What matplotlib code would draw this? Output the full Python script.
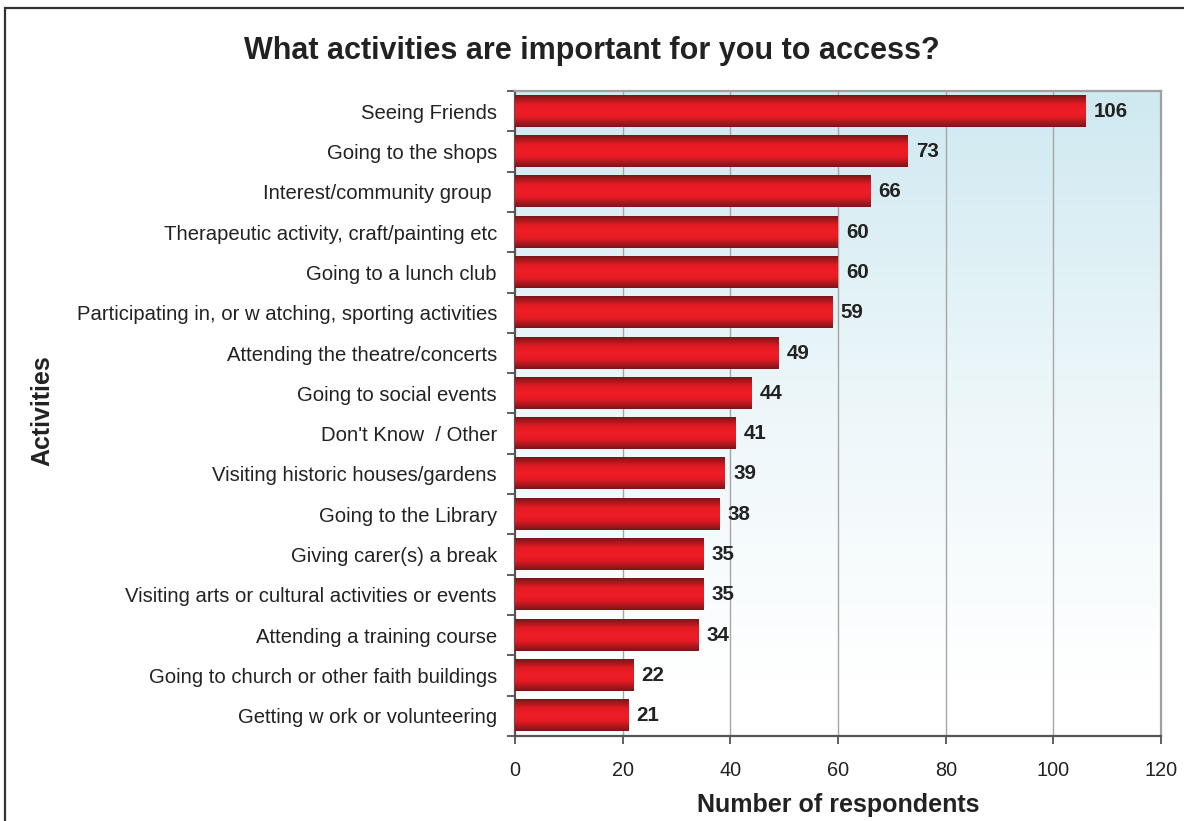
import numpy as np
import matplotlib.pyplot as plt
from matplotlib.colors import LinearSegmentedColormap
from matplotlib.patches import Rectangle

plt.rcParams["font.family"] = ["Liberation Sans", "DejaVu Sans"]

activities = [
    "Seeing Friends",
    "Going to the shops",
    "Interest/community group ",
    "Therapeutic activity, craft/painting etc",
    "Going to a lunch club",
    "Participating in, or w atching, sporting activities",
    "Attending the theatre/concerts",
    "Going to social events",
    "Don't Know  / Other",
    "Visiting historic houses/gardens",
    "Going to the Library",
    "Giving carer(s) a break",
    "Visiting arts or cultural activities or events",
    "Attending a training course",
    "Going to church or other faith buildings",
    "Getting w ork or volunteering",
]
respondents = [106, 73, 66, 60, 60, 59, 49, 44, 41, 39, 38, 35, 35, 34, 22, 21]
x_ticks = [0, 20, 40, 60, 80, 100, 120]

fig = plt.figure(figsize=(11.84, 8.21), dpi=100)
ax = fig.add_axes([0.435, 0.1035, 0.5456, 0.7857])

# frame around the whole chart
fig.add_artist(Rectangle((0.0045, -0.05), 1.2, 1.04, transform=fig.transFigure,
                         fill=False, edgecolor="#333333", linewidth=1.6))

n = len(activities)
ypos = np.arange(n)[::-1]
ax.set_xlim(0, 120)
ax.set_ylim(-0.5, n - 0.5)

# plot area: light blue at the top fading to white near the bottom
bg = LinearSegmentedColormap.from_list(
    "bg", [(0.0, "#ffffff"), (0.09, "#ffffff"), (0.55, "#ebf6f9"), (1.0, "#cfe9f1")])
ax.imshow(np.linspace(0, 1, 256).reshape(-1, 1), cmap=bg, origin="lower",
          extent=(0, 120, -0.5, n - 0.5), aspect="auto", zorder=0)

for x in x_ticks[1:-1]:
    ax.axvline(x, color="#a6a6a6", linewidth=1.0, zorder=1)

# cylinder-style shading across each bar
shade = LinearSegmentedColormap.from_list(
    "shade", [(0.0, "#7c1519"), (0.3, "#e41b23"), (0.5, "#ef1d26"),
              (0.72, "#e21b23"), (1.0, "#7c1519")])
grad = np.linspace(0, 1, 64).reshape(-1, 1)
h = 0.77
bars = ax.barh(ypos, respondents, height=h, color="none", zorder=2)
for b, v in zip(bars, respondents):
    y0 = b.get_y()
    ax.imshow(grad, cmap=shade, origin="lower",
              extent=(0, v, y0, y0 + h), aspect="auto", zorder=3)
    ax.text(v + 1.5, y0 + h / 2, str(v), va="center", ha="left",
            fontsize=14.8, fontweight="bold", color="#222222", zorder=4)

ax.set_yticks(ypos)
ax.set_yticklabels(activities, fontsize=14.6, color="#222222")
ax.set_yticks(np.arange(-0.5, n, 1), minor=True)
ax.tick_params(axis="y", which="major", length=0, pad=13)
ax.tick_params(axis="y", which="minor", length=6, width=1.2, color="#444444")
ax.set_xticks(x_ticks)
ax.tick_params(axis="x", length=6, width=1.2, color="#444444", pad=12,
               labelsize=14.3, labelcolor="#222222")

for side in ["left", "bottom"]:
    ax.spines[side].set_color("#555555")
    ax.spines[side].set_linewidth(1.6)
for side in ["top", "right"]:
    ax.spines[side].set_color("#a0a0a0")
    ax.spines[side].set_linewidth(1.6)

ax.set_xlabel("Number of respondents", fontsize=18, fontweight="bold",
              color="#222222", labelpad=9)
fig.text(0.036, 0.4995, "Activities", rotation=90, ha="center", va="center",
         fontsize=18, fontweight="bold", color="#222222")
fig.text(0.5, 0.938, "What activities are important for you to access?",
         ha="center", va="center", fontsize=22, fontweight="bold",
         color="#222222")

fig.savefig("out.png", dpi=100)
